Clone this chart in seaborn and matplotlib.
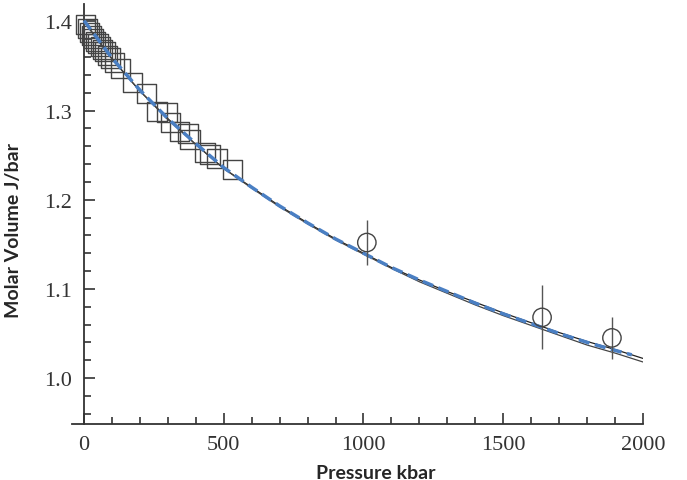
import numpy as np
import pandas as pd
import matplotlib
matplotlib.use("Agg")
import matplotlib.pyplot as plt
import seaborn as sns
from matplotlib.ticker import MultipleLocator

sns.set_style("white")

# ---- data ----
curve_p = [0, 100, 200, 300, 400, 500, 600, 700, 800, 900, 1000,
           1100, 1200, 1300, 1400, 1500, 1600, 1700, 1800, 1900, 2000]
curve_a = [1.400, 1.358, 1.322, 1.291, 1.262, 1.235, 1.214, 1.193, 1.174, 1.156, 1.140,
           1.124, 1.110, 1.097, 1.085, 1.073, 1.062, 1.051, 1.041, 1.032, 1.022]
curve_b = [1.400, 1.358, 1.322, 1.290, 1.262, 1.235, 1.213, 1.192, 1.173, 1.155, 1.139,
           1.123, 1.108, 1.095, 1.082, 1.070, 1.059, 1.048, 1.037, 1.028, 1.018]
dash_p = [0, 100, 200, 300, 400, 500, 600, 700, 800, 900, 1000,
          1100, 1200, 1300, 1400, 1500, 1600, 1700, 1800, 1900, 1960]
dash_v = [1.401, 1.359, 1.323, 1.291, 1.263, 1.236, 1.214, 1.193, 1.174, 1.156, 1.140,
          1.124, 1.110, 1.097, 1.084, 1.072, 1.061, 1.050, 1.040, 1.031, 1.026]

sq_p = [5, 12, 20, 28, 35, 42, 50, 58, 66, 75, 85, 95, 110, 130,
        175, 225, 261, 297, 308, 343, 372, 379, 433, 451, 476, 530]
sq_v = [1.397, 1.392, 1.388, 1.384, 1.381, 1.378, 1.375, 1.372, 1.369, 1.366, 1.362, 1.359, 1.354, 1.347,
        1.332, 1.319, 1.299, 1.298, 1.287, 1.277, 1.274, 1.268, 1.253, 1.251, 1.246, 1.234]

circ_p = [1012, 1639, 1889]
circ_v = [1.152, 1.068, 1.045]
circ_err = [0.025, 0.036, 0.024]

x_ticks = [0, 500, 1000, 1500, 2000]
y_ticks = [1.0, 1.1, 1.2, 1.3, 1.4]

# ---- figure ----
fig = plt.figure(figsize=(6.87, 4.81), dpi=100)
ax = fig.add_axes([0.1048, 0.1164, 0.8311, 0.8732])

dfa = pd.DataFrame({"p": curve_p, "v": curve_a})
dfb = pd.DataFrame({"p": curve_p, "v": curve_b})
dfd = pd.DataFrame({"p": dash_p, "v": dash_v})
sns.lineplot(data=dfa, x="p", y="v", ax=ax, color="#222222", lw=0.9, sort=False)
sns.lineplot(data=dfb, x="p", y="v", ax=ax, color="#444444", lw=0.9, sort=False)

dsq = pd.DataFrame({"p": sq_p, "v": sq_v})
sns.scatterplot(data=dsq, x="p", y="v", ax=ax, marker="s", s=190,
                facecolor="none", edgecolor="#444444", linewidth=1.0, zorder=3)

sns.lineplot(data=dfd, x="p", y="v", ax=ax, color="#4a7fc3", lw=2.5, sort=False)
ax.lines[-1].set_dashes([3.2, 1.6])
ax.lines[-1].set_zorder(4)

ax.errorbar(circ_p, circ_v, yerr=circ_err, fmt="none", ecolor="#555555",
            elinewidth=1.0, capsize=0, zorder=5)
dc = pd.DataFrame({"p": circ_p, "v": circ_v})
sns.scatterplot(data=dc, x="p", y="v", ax=ax, marker="o", s=175,
                facecolor="none", edgecolor="#444444", linewidth=1.0, zorder=6)

ax.set_xlim(-43, 2000)
ax.set_ylim(0.9484, 1.4196)
ax.spines["left"].set_position(("data", 0))
ax.spines["top"].set_visible(False)
ax.spines["right"].set_visible(False)
for s in ("left", "bottom"):
    ax.spines[s].set_color("#333333")
    ax.spines[s].set_linewidth(1.3)

ax.set_xticks(x_ticks)
ax.set_xticklabels([str(t) for t in x_ticks])
ax.set_yticks(y_ticks)
ax.set_yticklabels([f"{t:.1f}" for t in y_ticks])
ax.xaxis.set_minor_locator(MultipleLocator(100))
ax.yaxis.set_minor_locator(MultipleLocator(0.02))
ax.tick_params(which="both", direction="in", color="#333333", width=1.2,
               bottom=True, left=True, top=False, right=False)
ax.tick_params(which="major", length=8)
ax.tick_params(which="minor", length=5)
ax.tick_params(axis="x", which="major", pad=8)
ax.tick_params(axis="y", which="major", pad=9)
for lab in ax.get_xticklabels() + ax.get_yticklabels():
    lab.set_family("Liberation Serif")
    lab.set_fontsize(16)
    lab.set_color("#333333")

ax.set_xlabel("Pressure kbar", family="Lato", fontweight="bold", fontsize=14)
ax.set_ylabel("Molar Volume J/bar", family="Lato", fontweight="bold", fontsize=14)
ax.xaxis.set_label_coords((376 - 72) / 571, -(465 - 425) / 420)
ax.yaxis.set_label_coords(-(72 - 22) / 571, 1 - (230 - 5) / 420)

fig.savefig("out.png", dpi=100)
